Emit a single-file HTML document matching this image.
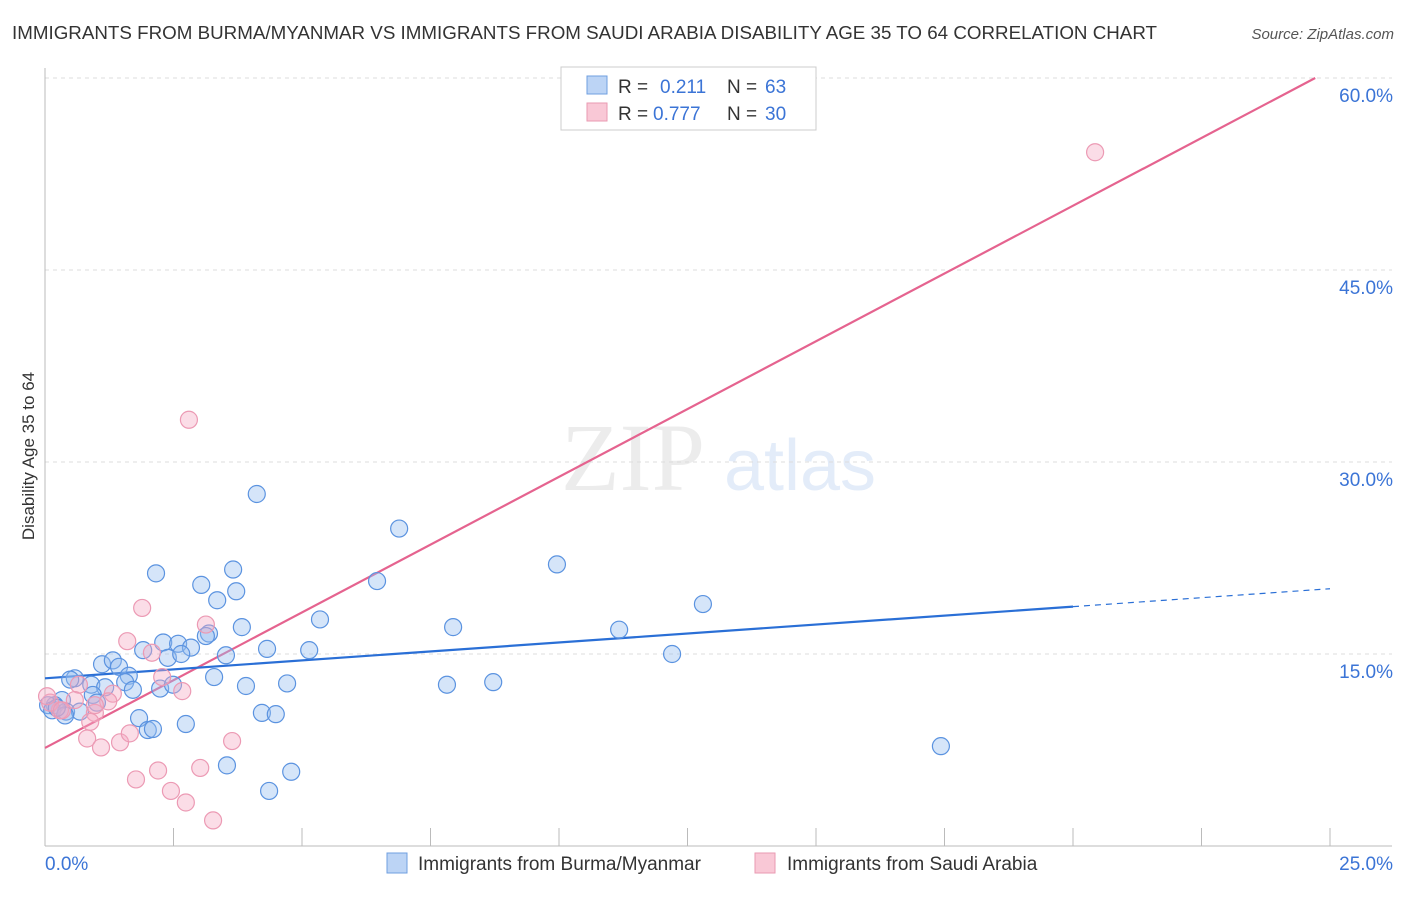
<!DOCTYPE html>
<html><head><meta charset="utf-8"><style>
body{margin:0;background:#fff;font-family:"Liberation Sans",sans-serif;}
</style></head><body>
<svg id="chart" width="1406" height="892" xmlns="http://www.w3.org/2000/svg" font-family="Liberation Sans, sans-serif">
<text x="12" y="39" font-size="18" fill="#333" textLength="1145" lengthAdjust="spacingAndGlyphs">IMMIGRANTS FROM BURMA/MYANMAR VS IMMIGRANTS FROM SAUDI ARABIA DISABILITY AGE 35 TO 64 CORRELATION CHART</text>
<text x="1394" y="39" font-size="15" fill="#555" font-style="italic" text-anchor="end">Source: ZipAtlas.com</text>
<text transform="translate(34,456) rotate(-90)" font-size="17" fill="#333" text-anchor="middle">Disability Age 35 to 64</text>
<g opacity="0.18">
<text x="633" y="490" font-size="96" fill="#999" font-family="Liberation Serif, serif" text-anchor="middle">ZIP</text>
<text x="800" y="490" font-size="72" fill="#6a9be0" text-anchor="middle">atlas</text>
</g>
<g id="grid"></g><g id="axes"></g><g id="lines"></g><g id="points"></g>
<g>
<rect x="561" y="67" width="255" height="63" fill="#fff" stroke="#ccc"/>
<rect x="587" y="76" width="20" height="18" fill="#bcd4f5" stroke="#6f9fe0"/>
<rect x="587" y="103" width="20" height="18" fill="#f9c8d6" stroke="#e99ab2"/>
<text x="618" y="93" font-size="19" fill="#333">R = <tspan x="660" fill="#3b74d6">0.211</tspan><tspan x="727">N = </tspan><tspan x="765" fill="#3b74d6">63</tspan></text>
<text x="618" y="120" font-size="19" fill="#333">R = <tspan x="653" fill="#3b74d6">0.777</tspan><tspan x="727">N = </tspan><tspan x="765" fill="#3b74d6">30</tspan></text>
</g>
<g>
<rect x="387" y="853" width="20" height="20" fill="#bcd4f5" stroke="#6f9fe0"/>
<text x="418" y="870" font-size="19" fill="#333">Immigrants from Burma/Myanmar</text>
<rect x="755" y="853" width="20" height="20" fill="#f9c8d6" stroke="#e99ab2"/>
<text x="787" y="870" font-size="19" fill="#333">Immigrants from Saudi Arabia</text>
</g>
</svg>
<script>
const xTicks=[0,2.5,5,7.5,10,12.5,15,17.5,20,22.5,25];
const yTicks=[15,30,45,60];
const yTickLabels=["15.0%","30.0%","45.0%","60.0%"];
const xEndLabels=["0.0%","25.0%"];
const blueX=[2.16,4.12,6.89,9.96,6.46,3.66,3.72,3.04,3.35,12.8,5.35,7.94,11.17,3.83,2.3,2.59,2.84,3.19,3.13,1.91,2.39,2.65,3.52,4.32,5.14,12.2,1.11,1.32,1.44,1.63,0.58,0.49,0.9,1.17,1.56,1.71,2.24,2.49,3.29,3.91,4.71,7.82,8.72,0.93,1.01,0.33,0.19,0.06,0.14,0.41,0.68,0.39,1.83,2.0,2.1,2.74,4.22,4.49,3.54,4.79,4.36,17.43,0.23];
const blueY=[21.3,27.5,24.8,22.0,20.7,21.6,19.9,20.4,19.2,18.9,17.7,17.1,16.9,17.1,15.9,15.8,15.5,16.6,16.4,15.3,14.7,15.0,14.9,15.4,15.3,15.0,14.2,14.5,14.0,13.3,13.1,13.0,12.6,12.4,12.8,12.2,12.3,12.6,13.2,12.5,12.7,12.6,12.8,11.8,11.2,11.4,11.0,11.0,10.6,10.5,10.5,10.2,9.99,9.06,9.14,9.53,10.4,10.3,6.3,5.8,4.3,7.8,10.8];
const pinkX=[20.43,2.8,1.89,1.6,2.08,3.13,2.67,2.28,1.32,1.23,0.66,0.58,0.97,0.88,0.29,0.1,0.04,0.82,1.09,1.46,1.65,3.64,3.02,2.2,1.77,2.45,2.74,3.27,0.33,0.97];
const pinkY=[54.2,33.3,18.6,16.0,15.1,17.3,12.1,13.2,11.9,11.3,12.6,11.4,10.4,9.7,10.6,11.2,11.7,8.4,7.7,8.1,8.8,8.2,6.1,5.9,5.2,4.3,3.4,2.0,10.6,11.0];
const blueFit=[13.1,0.28];
const pinkFit=[7.66,2.118];
const NS="http://www.w3.org/2000/svg";
const X=v=>45+v*51.4, Y=v=>846-v*12.8;
function mk(tag,attrs,parent){const e=document.createElementNS(NS,tag);for(const k in attrs)e.setAttribute(k,attrs[k]);document.getElementById(parent).appendChild(e);return e;}
yTicks.forEach((t,i)=>{
 const g=mk('line',{x1:45,x2:1392,y1:Y(t),y2:Y(t),stroke:'#ddd','stroke-dasharray':'4,4'},'grid');
 
 
 const l=mk('text',{x:1393,y:Y(t)+24,'font-size':19,fill:'#3b74d6','text-anchor':'end'},'axes');
 l.textContent=yTickLabels[i];
 
 
});
const topg=mk('line',{x1:45,x2:1392,y1:78,y2:78,stroke:'#ddd','stroke-dasharray':'4,4'},'grid');


const ya=mk('line',{x1:45,x2:45,y1:68,y2:846,stroke:'#bbb'},'axes');


const xa=mk('line',{x1:45,x2:1392,y1:846,y2:846,stroke:'#bbb'},'axes');


xTicks.forEach(t=>{const k=mk('line',{x1:X(t),x2:X(t),y1:828,y2:846,stroke:'#bbb'},'axes');
 
 });
const xl0=mk('text',{x:45,y:870,'font-size':19,fill:'#3b74d6'},'axes');xl0.textContent=xEndLabels[0];


const xl1=mk('text',{x:1393,y:870,'font-size':19,fill:'#3b74d6','text-anchor':'end'},'axes');xl1.textContent=xEndLabels[1];


const pEnd=(60-pinkFit[0])/pinkFit[1];
const pl=mk('line',{x1:X(0),y1:Y(pinkFit[0]),x2:X(pEnd),y2:Y(60),stroke:'#e5638f','stroke-width':2.2},'lines');


const bl=mk('line',{x1:X(0),y1:Y(blueFit[0]),x2:X(20),y2:Y(blueFit[0]+20*blueFit[1]),stroke:'#2a6fd6','stroke-width':2.2},'lines');


const bd=mk('line',{x1:X(20),y1:Y(blueFit[0]+20*blueFit[1]),x2:X(25),y2:Y(blueFit[0]+25*blueFit[1]),stroke:'#2a6fd6','stroke-width':1.2,'stroke-dasharray':'6,5'},'lines');


blueX.forEach((x,i)=>{const c=mk('circle',{cx:X(x),cy:Y(blueY[i]),r:8.5,fill:'rgba(150,190,240,0.4)',stroke:'#5b93e0','stroke-width':1.2},'points');
 
 });
pinkX.forEach((x,i)=>{const c=mk('circle',{cx:X(x),cy:Y(pinkY[i]),r:8.5,fill:'rgba(245,170,195,0.4)',stroke:'#ec9ab4','stroke-width':1.2},'points');
 
 });
</script>
</body></html>
